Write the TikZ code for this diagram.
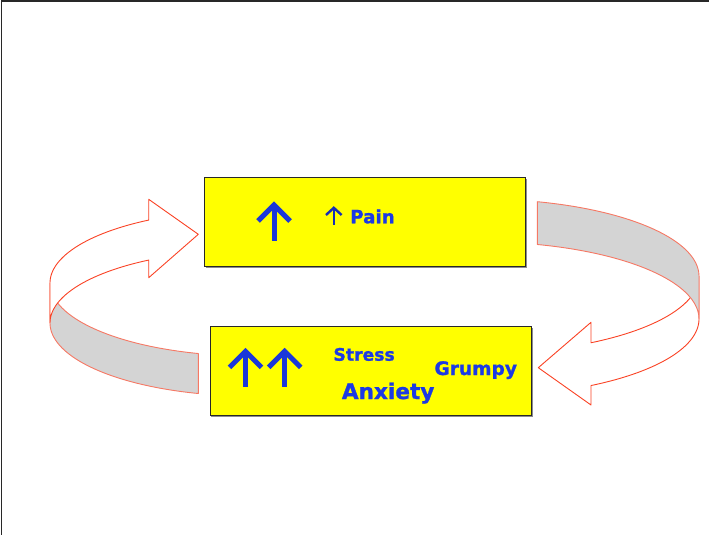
\documentclass[tikz,border=0pt]{standalone}
\usepackage{fontspec}
\setmainfont{DejaVu Sans}[BoldFont=DejaVu Sans Bold, BoldFeatures={FakeBold=1.2}]
\definecolor{arrowred}{RGB}{250,66,36}
\definecolor{bandedge}{RGB}{246,120,100}
\definecolor{bandgray}{RGB}{212,212,212}
\definecolor{boxyellow}{RGB}{255,255,0}
\definecolor{txtblue}{RGB}{28,58,228}
\definecolor{frameline}{RGB}{40,40,40}
\tikzset{
  band/.style={draw=arrowred, fill=white, line width=0.9pt, line join=round},
  grayband/.style={draw=bandedge, fill=bandgray, line width=0.9pt, line join=round},
  ybox/.style={draw=frameline, fill=boxyellow, line width=0.9pt, inner sep=0pt},
  boxshadow/.style={fill=black!45, draw=none},
  lbl/.style={text=txtblue, font=\bfseries, inner sep=0pt, anchor=base west},
  uparrow/.style={draw=txtblue!95!black, line width=5pt, line join=miter, line cap=butt},
  smallarrow/.style={draw=txtblue!80!black, line width=2.4pt, line join=miter, line cap=butt}
}
\begin{document}
\begin{tikzpicture}[x=1pt,y=-1pt]
\useasboundingbox (0,0) rectangle (709,535);
% frame
\draw[frameline, line width=1.6pt] (1.5,535) -- (1.5,1) -- (709,1);

% left ribbon: gray back band first, white front band on top
\draw[grayband] plot[domain=180:104.98, samples=50] ({250+200*cos(\x)},{283+73*sin(\x)})
  -- plot[domain=104.98:180, samples=50] ({250+200*cos(\x)},{323+73*sin(\x)}) -- cycle;
\draw[band] plot[domain=239.57:180, samples=50] ({250+200*cos(\x)},{283+73*sin(\x)})
  -- plot[domain=180:239.57, samples=50] ({250+200*cos(\x)},{323+73*sin(\x)})
  -- (148.7,277.7) -- (198.3,234.3) -- (148.7,199.3) -- cycle;

% right ribbon: white front band first, gray back band on top
\draw[band] plot[domain=0:59.54, samples=50] ({480+219*cos(\x)},{276.2+77.2*sin(\x)})
  -- (591,322.3) -- (538.3,367.7) -- (591,405)
  -- plot[domain=59.54:0, samples=50] ({480+219*cos(\x)},{319+77.2*sin(\x)}) -- cycle;
\draw[grayband] plot[domain=285.17:360, samples=50] ({480+219*cos(\x)},{276.2+77.2*sin(\x)})
  -- plot[domain=360:285.17, samples=50] ({480+219*cos(\x)},{319+77.2*sin(\x)}) -- cycle;

% boxes
\fill[boxshadow] (205.5,178.5) rectangle (527,268);
\node[ybox, minimum width=321.5pt, minimum height=89.5pt] (top) at (365,222) {};
\fill[boxshadow] (211,327.5) rectangle (532.5,417);
\node[ybox, minimum width=321.5pt, minimum height=89.5pt] (bottom) at (371,371) {};

% arrows in top box
\draw[uparrow] (258,221) -- (274,205) -- (290,221);
\draw[uparrow] (274,206) -- (274,241);
\draw[smallarrow] (326,215) -- (333.8,207.8) -- (341.6,215);
\draw[smallarrow] (333.8,208.5) -- (333.8,225);

% arrows in bottom box
\draw[uparrow] (229.5,367.3) -- (245.5,351.3) -- (261.5,367.3);
\draw[uparrow] (245.5,352.3) -- (245.5,386.7);
\draw[uparrow] (268.7,367.3) -- (284.7,351.3) -- (300.7,367.3);
\draw[uparrow] (284.7,352.3) -- (284.7,386.7);

% labels
\node[lbl, font=\bfseries\fontsize{18.3}{20}\selectfont] (pain) at (350,223.3) {Pain};
\node[lbl, font=\bfseries\fontsize{17.2}{19}\selectfont] (stress) at (333.3,360.7) {Stress};
\node[lbl, font=\bfseries\fontsize{21.6}{23}\selectfont] (anxiety) at (341.7,399) {Anxiety};
\node[lbl, font=\bfseries\fontsize{18.6}{20}\selectfont] (grumpy) at (434.3,375) {Grumpy};
\end{tikzpicture}
\end{document}
